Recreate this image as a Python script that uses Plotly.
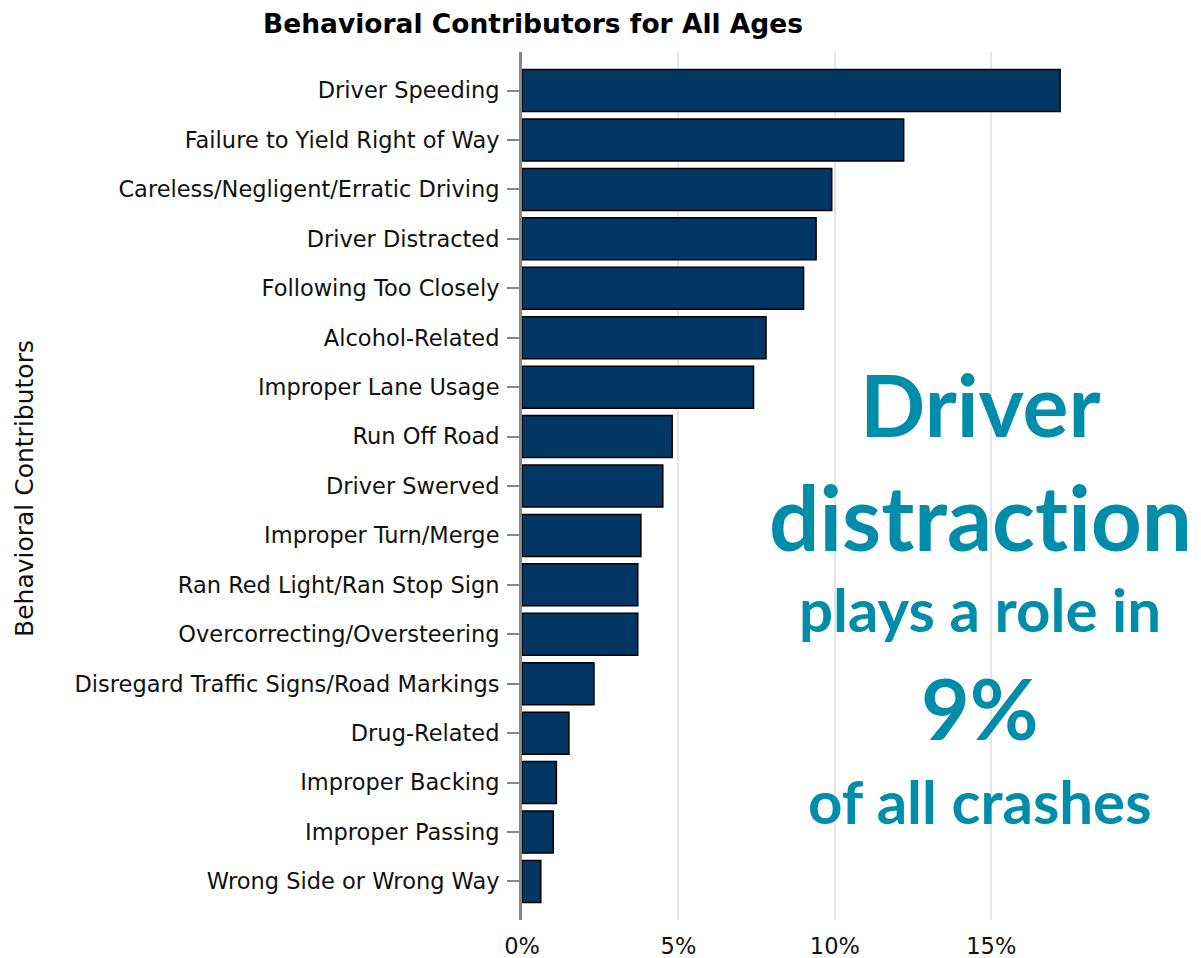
import plotly.graph_objects as go

categories = [
    "Driver Speeding",
    "Failure to Yield Right of Way",
    "Careless/Negligent/Erratic Driving",
    "Driver Distracted",
    "Following Too Closely",
    "Alcohol-Related",
    "Improper Lane Usage",
    "Run Off Road",
    "Driver Swerved",
    "Improper Turn/Merge",
    "Ran Red Light/Ran Stop Sign",
    "Overcorrecting/Oversteering",
    "Disregard Traffic Signs/Road Markings",
    "Drug-Related",
    "Improper Backing",
    "Improper Passing",
    "Wrong Side or Wrong Way",
]
values = [17.2, 12.2, 9.9, 9.4, 9.0, 7.8, 7.4, 4.8, 4.5, 3.8, 3.7, 3.7, 2.3, 1.5, 1.1, 1.0, 0.6]
x_ticks = [0, 5, 10, 15]
x_tick_labels = ["0%", "5%", "10%", "15%"]

title_text = "Behavioral Contributors for All Ages"
y_title = "Behavioral Contributors"
callout_lines = ["Driver", "<span style='font-variant-ligatures:none'>distraction</span>",
                 "plays a role in", "9%", "of all crashes"]

OFF = 8  # page body margin
W, H = 1193, 950
L, R, T, B = 514, 22, 44, 38
pw, ph = W - L - R, H - T - B

def px(x):
    return (x - OFF - L) / pw

def py(y):
    return (H - B - (y - OFF)) / ph

fig = go.Figure(go.Bar(
    x=values,
    y=categories,
    orientation="h",
    marker=dict(color="#023764", line=dict(color="#000000", width=1.5)),
    hoverinfo="x+y",
))

teal = "#008DAA"
callout_specs = [
    (callout_lines[0], 86, 403),
    (callout_lines[1], 89, 516),
    (callout_lines[2], 60, 609),
    (callout_lines[3], 84, 707),
    (callout_lines[4], 60, 801),
]
annotations = []
for text, size, yc in callout_specs:
    annotations.append(dict(
        text=text, xref="paper", yref="paper", x=px(980), y=py(yc),
        xanchor="center", yanchor="middle", showarrow=False,
        font=dict(family="Lato", size=size, color=teal, weight="bold"),
    ))
annotations.append(dict(
    text=y_title, xref="paper", yref="paper", x=px(24), y=py(489),
    xanchor="center", yanchor="middle", showarrow=False, textangle=-90,
    font=dict(family="DejaVu Sans", size=25, color="#111111"),
))
annotations.append(dict(
    text="<b>" + title_text + "</b>", xref="paper", yref="paper", x=px(533), y=py(23),
    xanchor="center", yanchor="middle", showarrow=False,
    font=dict(family="DejaVu Sans", size=26.5, color="#000000"),
))

fig.update_layout(
    width=W, height=H,
    margin=dict(l=L, r=R, t=T, b=B, autoexpand=False),
    paper_bgcolor="white", plot_bgcolor="white",
    bargap=0.15,
    showlegend=False,
    annotations=annotations,
    font=dict(family="DejaVu Sans", color="#111111"),
)
fig.update_xaxes(
    range=[0, 21], tickvals=x_ticks, ticktext=x_tick_labels,
    showgrid=True, gridcolor="#e6e6e6", gridwidth=2,
    zeroline=False, showline=False, ticks="",
    ticklabelstandoff=10,
    tickfont=dict(family="DejaVu Sans", size=22.5, color="#111111"),
)
fig.update_yaxes(
    categoryorder="array", categoryarray=categories,
    range=[len(categories) - 1 + 0.78, -0.78],
    showline=True, linecolor="#888888", linewidth=3,
    ticks="outside", ticklen=12, tickcolor="#888888", tickwidth=2,
    ticklabelstandoff=3,
    showgrid=False, zeroline=False,
    tickfont=dict(family="DejaVu Sans", size=22.5, color="#111111"),
)

fig.write_html("out.html")
